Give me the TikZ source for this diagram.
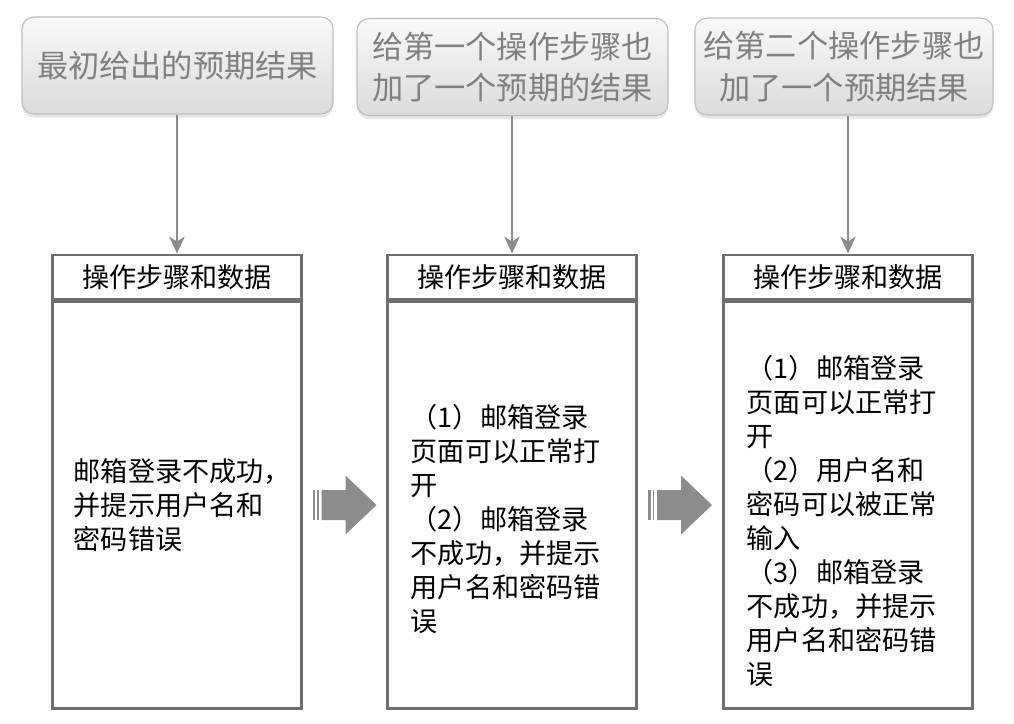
\documentclass[tikz,border=0pt]{standalone}
\usepackage{fontspec}
\setmainfont{Noto Sans CJK SC}
\usetikzlibrary{arrows.meta,positioning,shadows,calc}
\definecolor{framegray}{RGB}{110,110,110}
\definecolor{flowgray}{RGB}{140,140,140}
\definecolor{notegray}{RGB}{128,128,128}
\definecolor{noteedge}{RGB}{190,190,190}

\begin{document}
\begin{tikzpicture}[
            x=0.025cm, y=-0.025cm,
            expbox/.style={rectangle, draw=noteedge, rounded corners=0.3cm, align=center, minimum height=2.425cm, inner sep=0pt, top color=gray!5, bottom color=gray!28, text=notegray, font=\fontsize{22.2pt}{29.5pt}\selectfont, line width=0.8pt, drop shadow={shadow xshift=0pt, shadow yshift=-2.5pt, opacity=0.2}},
            headbox/.style={rectangle, draw=framegray, line width=2.1pt, minimum width=6.2cm, minimum height=1.1cm, inner sep=0pt, font=\fontsize{19.3pt}{24pt}\selectfont},
            bodybox/.style={rectangle, draw=framegray, line width=2.1pt, minimum width=6.2cm, minimum height=10.15cm, inner sep=0pt},
            steptext/.style={align=left, inner sep=0pt, anchor=west, font=\fontsize{19.3pt}{24.2pt}\selectfont},
            arrow/.style={-{Stealth[length=0.42cm, width=0.38cm, inset=0.12cm]}, draw=flowgray, line width=2.1pt}
        ]
            \useasboundingbox (0,0) rectangle (1014,724);

            % --- PREVISTO ---
            \node[expbox, minimum width=7.775cm] (exp1) at (177.5,65.5) {最初给出的预期结果};
            \node[expbox, minimum width=7.775cm] (exp2) at (512.5,67) {给第一个操作步骤也\\加了一个预期的结果};
            \node[expbox, minimum width=7.45cm] (exp3) at (844,66.5) {给第二个操作步骤也\\加了一个预期结果};

            % --- PASSOS ---
            \node[headbox] (head1) at (177,277) {操作步骤和数据};
            \node[headbox] (head2) at (512,277) {操作步骤和数据};
            \node[headbox] (head3) at (848,277) {操作步骤和数据};
            \node[bodybox, anchor=north] (body1) at (head1.south) {};
            \node[bodybox, anchor=north] (body2) at (head2.south) {};
            \node[bodybox, anchor=north] (body3) at (head3.south) {};

            \node[steptext] (txt1) at ([xshift=0.55cm]body1.west) {邮箱登录不成功，\\并提示用户名和\\密码错误};
            \node[steptext] (txt2) at ([xshift=0.6cm, yshift=-0.35cm]body2.west) {（1）邮箱登录\\页面可以正常打\\开\\（2）邮箱登录\\不成功，并提示\\用户名和密码错\\误};
            \node[steptext] (txt3) at ([xshift=0.6cm, yshift=-0.4cm]body3.west) {（1）邮箱登录\\页面可以正常打\\开\\（2）用户名和\\密码可以被正常\\输入\\（3）邮箱登录\\不成功，并提示\\用户名和密码错\\误};

            % --- LIGACAO ---
            \draw[arrow] (head1.north |- exp1.south) -- (head1.north);
            \draw[arrow] (head2.north |- exp2.south) -- (head2.north);
            \draw[arrow] (head3.north |- exp3.south) -- (head3.north);

            \coordinate (go1) at ($(body1.east)!0.5!(body2.west)$);
            \coordinate (go2) at ($(body2.east)!0.5!(body3.west)$);
            \foreach \g in {go1,go2}{
                \fill[flowgray] ([shift={(-32,-15)}]\g) rectangle ([shift={(-29.5,15)}]\g);
                \fill[flowgray] ([shift={(-27.5,-15)}]\g) rectangle ([shift={(-26,15)}]\g);
                \fill[flowgray] ([shift={(-23,-15)}]\g) -- ([shift={(1,-15)}]\g) -- ([shift={(1,-29.5)}]\g)
                    -- ([shift={(32,0)}]\g) -- ([shift={(1,29.5)}]\g) -- ([shift={(1,15)}]\g)
                    -- ([shift={(-23,15)}]\g) -- cycle;
            }

        \end{tikzpicture}
\end{document}
